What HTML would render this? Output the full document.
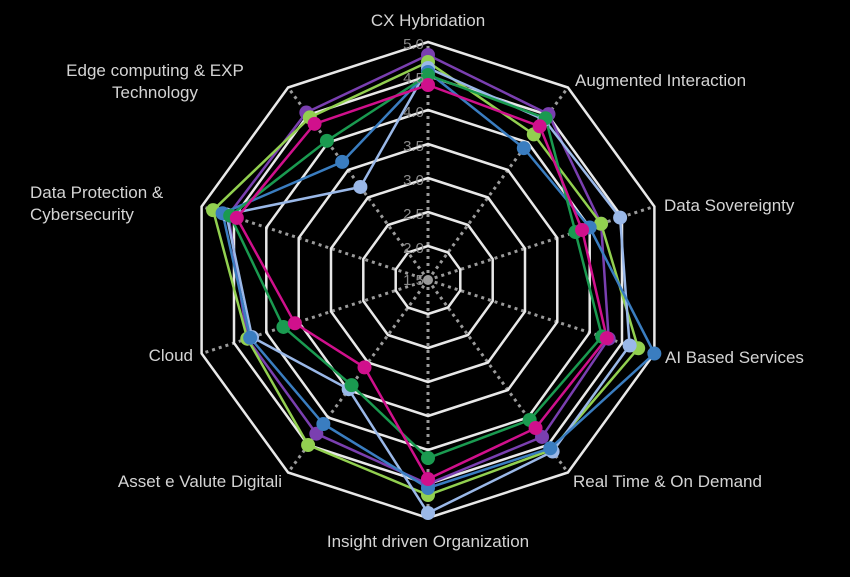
<!DOCTYPE html>
<html><head><meta charset="utf-8"><style>
html,body{margin:0;padding:0;background:#000;width:850px;height:577px;overflow:hidden}
svg{display:block}
text{font-family:"Liberation Sans",sans-serif;fill:#d4d4d4;font-size:17px}
.s{fill:#8a8a8a;font-size:15px;text-anchor:end}
</style></head><body>
<svg id="c" width="850" height="577" viewBox="0 0 850 577">
<g id="grid"></g>
<g id="series"></g>
<text x="428" y="26" text-anchor="middle">CX Hybridation</text>
<text x="575" y="86">Augmented Interaction</text>
<text x="664" y="211">Data Sovereignty</text>
<text x="665" y="363">AI Based Services</text>
<text x="573" y="487">Real Time &amp; On Demand</text>
<text x="428" y="547" text-anchor="middle">Insight driven Organization</text>
<text x="282" y="487" text-anchor="end">Asset e Valute Digitali</text>
<text x="193" y="361" text-anchor="end">Cloud</text>
<text x="30" y="198">Data Protection &amp;</text>
<text x="30" y="220">Cybersecurity</text>
<text x="155" y="76" text-anchor="middle">Edge computing &amp; EXP</text>
<text x="155" y="98" text-anchor="middle">Technology</text>
<text class="s" x="424" y="49">5.0</text>
<text class="s" x="424" y="83">4.5</text>
<text class="s" x="424" y="117">4.0</text>
<text class="s" x="424" y="151">3.5</text>
<text class="s" x="424" y="185">3.0</text>
<text class="s" x="424" y="219">2.5</text>
<text class="s" x="424" y="253">2.0</text>
<text class="s" x="424" y="285">1.5</text>
</svg>
<script>
var cx=428,cy=280,NS="http://www.w3.org/2000/svg";
function pt(k,r){var a=k*Math.PI/5;return [cx+r*Math.sin(a),cy-r*Math.cos(a)];}
function el(t,at,p){var e=document.createElementNS(NS,t);for(var k in at)e.setAttribute(k,at[k]);p.appendChild(e);return e;}
var g=document.getElementById("grid");
for(var k=0;k<10;k++){var p=pt(k,238);el("line",{x1:cx,y1:cy,x2:p[0],y2:p[1],stroke:"#9a9a9a","stroke-width":3,"stroke-dasharray":"3,4"},g);}
for(var i=1;i<=7;i++){var r=i*34,s="";for(var k=0;k<10;k++){var p=pt(k,r);s+=p[0].toFixed(1)+","+p[1].toFixed(1)+" ";}
el("polygon",{points:s,fill:"none",stroke:"#e8e8e8","stroke-width":2.5},g);}
el("circle",{cx:cx,cy:cy,r:4,fill:"none",stroke:"#9a9a9a","stroke-width":2},g);
var S=[
["#7a3fb0",[225,205,182,190,194,204,190,190,210,207]],
["#92d050",[218,180,182,221,210,215,204,190,226,201]],
["#9ab8e8",[212,198,202,212,212,233,135,185,212,115]],
["#3a7dc0",[208,163,170,238,208,208,178,187,216,146]],
["#1a9a50",[205,200,155,183,173,178,130,152,208,172]],
["#d0108c",[195,190,162,188,183,199,108,140,201,193]]];
var sg=document.getElementById("series");
S.forEach(function(o){var s="";o[1].forEach(function(r,k){var p=pt(k,r);s+=p[0].toFixed(1)+","+p[1].toFixed(1)+" ";});
el("polygon",{points:s,fill:"none",stroke:o[0],"stroke-width":2.5},sg);});
S.forEach(function(o){o[1].forEach(function(r,k){var p=pt(k,r);el("circle",{cx:p[0],cy:p[1],r:7,fill:o[0]},sg);});});
</script>
</body></html>
